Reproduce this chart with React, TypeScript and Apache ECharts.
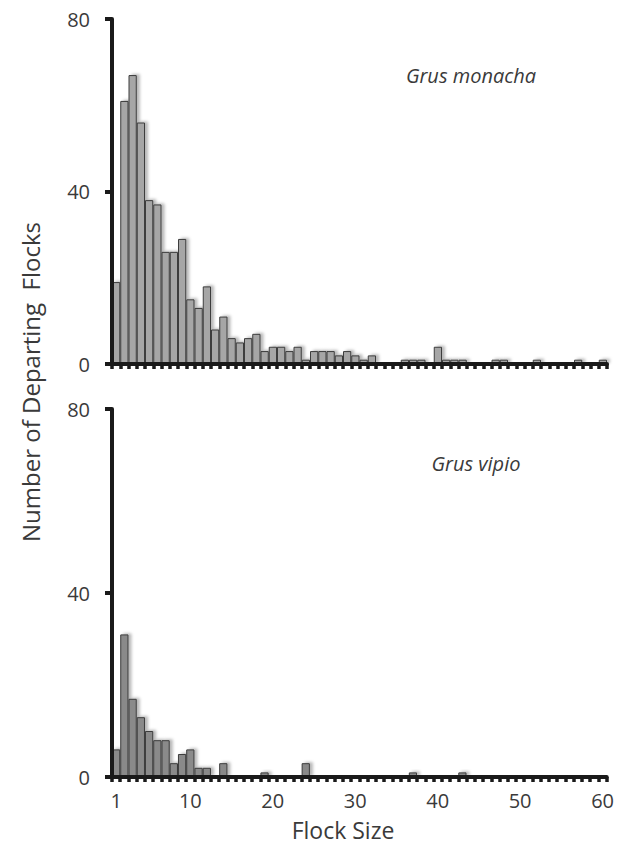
import React, { useEffect, useRef } from 'react';
import * as echarts from 'echarts';

const categories = [
  '1', '2', '3', '4', '5', '6', '7', '8', '9', '10',
  '11', '12', '13', '14', '15', '16', '17', '18', '19', '20',
  '21', '22', '23', '24', '25', '26', '27', '28', '29', '30',
  '31', '32', '33', '34', '35', '36', '37', '38', '39', '40',
  '41', '42', '43', '44', '45', '46', '47', '48', '49', '50',
  '51', '52', '53', '54', '55', '56', '57', '58', '59', '60',
];

// Grus monacha (top panel)
const monacha = [
  19, 61, 67, 56, 38, 37, 26, 26, 29, 15,
  13, 18, 8, 11, 6, 5, 6, 7, 3, 4,
  4, 3, 4, 1, 3, 3, 3, 2, 3, 2,
  1, 2, 0, 0, 0, 1, 1, 1, 0, 4,
  1, 1, 1, 0, 0, 0, 1, 1, 0, 0,
  0, 1, 0, 0, 0, 0, 1, 0, 0, 1,
];

// Grus vipio (bottom panel)
const vipio = [
  6, 31, 17, 13, 10, 8, 8, 3, 5, 6,
  2, 2, 0, 3, 0, 0, 0, 0, 1, 0,
  0, 0, 0, 3, 0, 0, 0, 0, 0, 0,
  0, 0, 0, 0, 0, 0, 1, 0, 0, 0,
  0, 0, 1, 0, 0, 0, 0, 0, 0, 0,
  0, 0, 0, 0, 0, 0, 0, 0, 0, 0,
];

const xTickLabels = ['1', '10', '20', '30', '40', '50', '60'];
const yMin = 0;
const yMax = 80;
const yInterval = 40;

const FONT = '"Open Sans", "Noto Sans", sans-serif';
const AXIS_COLOR = '#1a1a1a';
const TEXT_COLOR = '#3a3a3a';

export default function App() {
  const ref = useRef<HTMLDivElement>(null);

  useEffect(() => {
    document.body.style.margin = '0';
    if (!ref.current) return;
    const chart = echarts.init(ref.current, null, { renderer: 'svg' });

    const makeX = (gridIndex: number, showLabels: boolean) => ({
      type: 'category',
      gridIndex,
      data: categories,
      boundaryGap: true,
      axisLine: { show: true, lineStyle: { color: AXIS_COLOR, width: 4 } },
      axisTick: {
        show: true,
        interval: 0,
        length: 5,
        lineStyle: { color: AXIS_COLOR, width: 3.5 },
      },
      axisLabel: {
        show: showLabels,
        interval: (_i: number, v: string) => xTickLabels.includes(v),
        fontFamily: FONT,
        fontSize: 20,
        color: TEXT_COLOR,
        margin: 13,
      },
      splitLine: { show: false },
      z: 5,
    });

    const makeY = (gridIndex: number) => ({
      type: 'value',
      gridIndex,
      min: yMin,
      max: yMax,
      interval: yInterval,
      axisLine: { show: true, lineStyle: { color: AXIS_COLOR, width: 4 } },
      axisTick: { show: true, length: 7, lineStyle: { color: AXIS_COLOR, width: 4 } },
      axisLabel: {
        fontFamily: FONT,
        fontSize: 20,
        color: TEXT_COLOR,
        margin: 22,
      },
      splitLine: { show: false },
      z: 5,
    });

    const barStyle = (fill: string) => ({
      color: fill,
      borderColor: '#3c3c3c',
      borderWidth: 1,
      shadowColor: 'rgba(0,0,0,0.28)',
      shadowBlur: 3,
      shadowOffsetX: 3,
      shadowOffsetY: -1,
    });

    chart.setOption({
      animation: false,
      backgroundColor: '#ffffff',
      grid: [
        { left: 112, top: 19, width: 495, height: 345 },
        { left: 112, top: 409, width: 495, height: 368 },
      ],
      xAxis: [makeX(0, false), makeX(1, true)],
      yAxis: [makeY(0), makeY(1)],
      series: [
        {
          type: 'bar',
          name: 'Grus monacha',
          xAxisIndex: 0,
          yAxisIndex: 0,
          data: monacha,
          barCategoryGap: '0%',
          itemStyle: barStyle('#a6a6a6'),
        },
        {
          type: 'bar',
          name: 'Grus vipio',
          xAxisIndex: 1,
          yAxisIndex: 1,
          data: vipio,
          barCategoryGap: '0%',
          itemStyle: barStyle('#8a8a8a'),
        },
      ],
      graphic: [
        {
          type: 'text',
          x: 30,
          y: 382,
          rotation: Math.PI / 2,
          style: {
            text: 'Number of Departing  Flocks',
            fontFamily: FONT,
            fontSize: 24,
            fill: TEXT_COLOR,
            textAlign: 'center',
            textVerticalAlign: 'middle',
          },
        },
        {
          type: 'text',
          x: 343,
          y: 830,
          style: {
            text: 'Flock Size',
            fontFamily: FONT,
            fontSize: 23,
            fill: TEXT_COLOR,
            textAlign: 'center',
            textVerticalAlign: 'middle',
          },
        },
        {
          type: 'text',
          x: 471,
          y: 75,
          style: {
            text: 'Grus monacha',
            fontFamily: FONT,
            fontStyle: 'italic',
            fontSize: 20,
            fill: TEXT_COLOR,
            textAlign: 'center',
            textVerticalAlign: 'middle',
          },
        },
        {
          type: 'text',
          x: 476,
          y: 463,
          style: {
            text: 'Grus vipio',
            fontFamily: FONT,
            fontStyle: 'italic',
            fontSize: 20,
            fill: TEXT_COLOR,
            textAlign: 'center',
            textVerticalAlign: 'middle',
          },
        },
      ],
    });

    return () => chart.dispose();
  }, []);

  return <div ref={ref} style={{ width: 617, height: 847 }} />;
}
